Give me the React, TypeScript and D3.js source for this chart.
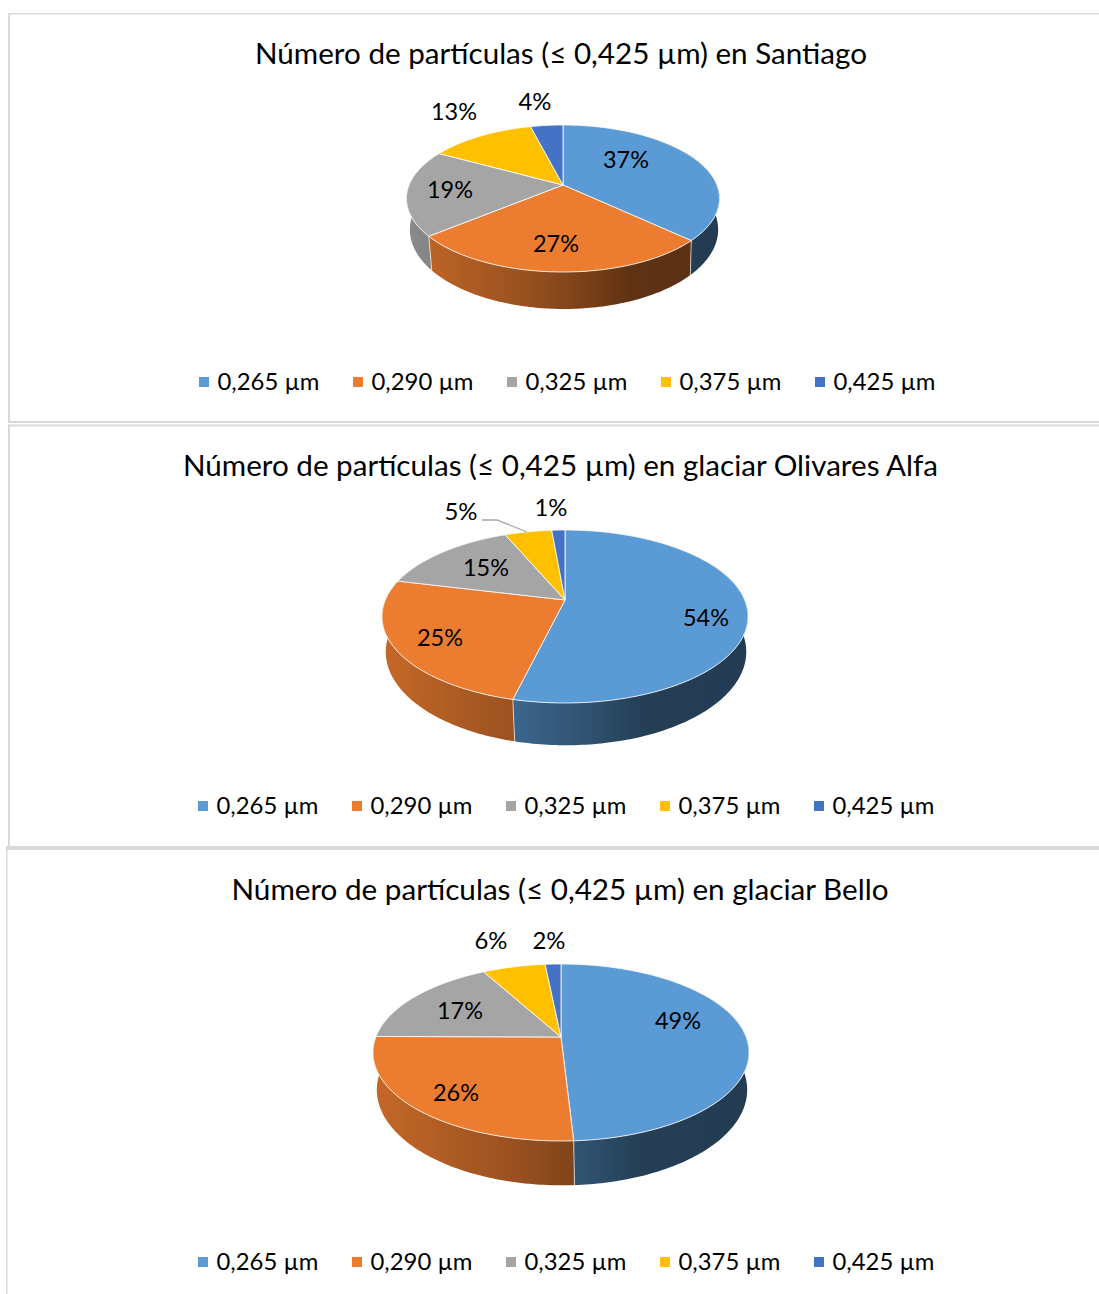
import React from "react";
import * as d3 from "d3";

const categories = ["0,265 µm", "0,290 µm", "0,325 µm", "0,375 µm", "0,425 µm"];
const colors = ["#5B9BD5", "#EB7C30", "#A5A5A5", "#FFC000", "#4472C4"];

const titles = [
  "Número de partículas (≤ 0,425 µm) en Santiago",
  "Número de partículas (≤ 0,425 µm) en glaciar Olivares Alfa",
  "Número de partículas (≤ 0,425 µm) en glaciar Bello",
];
const santiagoValues = [37, 27, 19, 13, 4];
const olivaresValues = [53.8, 25, 14.8, 5, 1.4];
const belloValues = [49.1, 26, 16.9, 6.4, 1.6];
const seriesValues = [santiagoValues, olivaresValues, belloValues];

// layout of each pie: apex, extent of the top face, rim depth
const layouts = [
  { cx: 563, cy: 185, top: 125, bottom: 272, rx: 156.5, depth: 30, titleX: 561, titleY: 54, titleW: 612, legendX: 199, legendY: 382,
    labels: [[63, -25], [-7, 59], [-113, 5], [-109, -73], [-28, -83]] },
  { cx: 565, cy: 600, top: 530, bottom: 703, rx: 183, depth: 34, titleX: 560.5, titleY: 466, titleW: 755, legendX: 198, legendY: 806,
    labels: [[141, 18], [-125, 38], [-79, -32], [-104, -88], [-14, -92]] },
  { cx: 561, cy: 1037, top: 964, bottom: 1141, rx: 188, depth: 36, titleX: 560, titleY: 890, titleW: 657, legendX: 198, legendY: 1262,
    labels: [[117, -16], [-105, 56], [-101, -26], [-70, -96], [-12, -96]] },
];

const FONT = "Lato, 'Open Sans', sans-serif";
const shade = d3.scaleLinear<number>().domain([0, 0.36, 0.53, 0.72, 1]).range([0.84, 0.66, 0.55, 0.4, 0.39]);
const gradientStops = [0, 0.18, 0.36, 0.53, 0.72, 1];

function darken(color: string, k: number) {
  const c = d3.rgb(color);
  return d3.rgb(c.r * k, c.g * k, c.b * k).formatHex();
}

function Pie3D({ index }: { index: number }) {
  const L = layouts[index];
  const values = seriesValues[index];
  const far = L.cy - L.top;
  const near = L.bottom - L.cy;
  const a = (near - far) / (near + far);
  const B = far * (1 + a);
  const A = L.rx * Math.sqrt(1 - a * a);
  const project = (t: number): [number, number] => {
    const u = Math.sin(t), v = Math.cos(t), w = 1 + a * v;
    return [L.cx + (A * u) / w, L.cy - (B * v) / w];
  };
  const lower = ([x, y]: [number, number]): [number, number] => [
    L.cx + 1 + (x - L.cx) * 0.985,
    y + L.depth + 0.08 * (y - L.cy),
  ];
  const arcs = d3.pie<number>().sort(null)(values);
  const total = d3.sum(values);
  const line = d3.line();
  const sample = (s: number, e: number) => {
    const n = Math.max(2, Math.ceil(((e - s) * 180) / Math.PI));
    return d3.range(n + 1).map((i) => s + ((e - s) * i) / n);
  };
  const lo = (60 * Math.PI) / 180, hi = (300 * Math.PI) / 180;
  const left = L.cx - L.rx, width = 2 * L.rx;
  return (
    <g>
      <defs>
        {colors.map((c, i) => (
          <linearGradient key={i} id={`side-${index}-${i}`} gradientUnits="userSpaceOnUse" x1={left} x2={left + width} y1={0} y2={0}>
            {gradientStops.map((f) => (
              <stop key={f} offset={f} stopColor={darken(c, shade(f))} />
            ))}
          </linearGradient>
        ))}
      </defs>
      {arcs.map((d, i) => {
        const s = Math.max(d.startAngle, lo), e = Math.min(d.endAngle, hi);
        if (e <= s) return null;
        const upper = sample(s, e).map(project);
        const bottom = upper.map(lower).reverse();
        return <path key={i} d={line([...upper, ...bottom])! + "Z"} fill={`url(#side-${index}-${i})`} />;
      })}
      {arcs.map((d, i) => {
        const t = d.startAngle;
        if (t < lo || t > hi) return null;
        const p = project(t);
        return <path key={i} d={line([p, lower(p)])!} stroke="#fff" strokeOpacity={0.65} strokeWidth={1} fill="none" />;
      })}
      {arcs.map((d, i) => (
        <path
          key={i}
          d={line([[L.cx, L.cy], ...sample(d.startAngle, d.endAngle).map(project)])! + "Z"}
          fill={colors[i]}
          stroke="#fff"
          strokeOpacity={0.8}
          strokeWidth={1}
          strokeLinejoin="round"
        />
      ))}
      {index === 1 && (
        <polyline points="482,520 497,520 527,532" fill="none" stroke="#A6A6A6" strokeWidth={1.3} />
      )}
      {values.map((v, i) => (
        <text
          key={i}
          x={L.cx + L.labels[i][0]}
          y={L.cy + L.labels[i][1]}
          dy="0.35em"
          textAnchor="middle"
          fontSize={23}
          fontFamily={FONT}
          fill="#000"
          textLength={String(Math.round((v / total) * 100)).length > 1 ? 46 : 33}
          lengthAdjust="spacingAndGlyphs"
        >
          {Math.round((v / total) * 100)}%
        </text>
      ))}
      <text
        x={L.titleX}
        y={L.titleY}
        dy="0.35em"
        textAnchor="middle"
        fontSize={28}
        fontFamily={FONT}
        fill="#000"
        textLength={L.titleW}
        lengthAdjust="spacingAndGlyphs"
      >
        {titles[index]}
      </text>
      {categories.map((c, i) => {
        const x = L.legendX + i * 154;
        return (
          <g key={c}>
            <rect x={x} y={L.legendY - 5} width={10} height={10} fill={colors[i]} />
            <text
              x={x + 18.5}
              y={L.legendY}
              dy="0.35em"
              fontSize={23}
              fontFamily={FONT}
              fill="#000"
              textLength={102}
              lengthAdjust="spacingAndGlyphs"
            >
              {c}
            </text>
          </g>
        );
      })}
    </g>
  );
}

export default function App() {
  const border = "#D9D9D9";
  return (
    <svg
      width={1099}
      height={1294}
      viewBox="0 0 1099 1294"
      style={{ position: "absolute", left: 0, top: 0, background: "#fff" }}
    >
      <rect x={8} y={13} width={2} height={410} fill={border} />
      <rect x={8} y={13} width={1091} height={1.5} fill={border} />
      <rect x={8} y={421} width={1091} height={2} fill={border} />
      <rect x={8} y={424.5} width={1091} height={2} fill={border} />
      <rect x={8} y={424.5} width={2} height={423} fill={border} />
      <rect x={6} y={846} width={1093} height={4} fill={border} />
      <rect x={6} y={848} width={1.5} height={446} fill={border} />
      {layouts.map((_, i) => (
        <Pie3D key={i} index={i} />
      ))}
    </svg>
  );
}
